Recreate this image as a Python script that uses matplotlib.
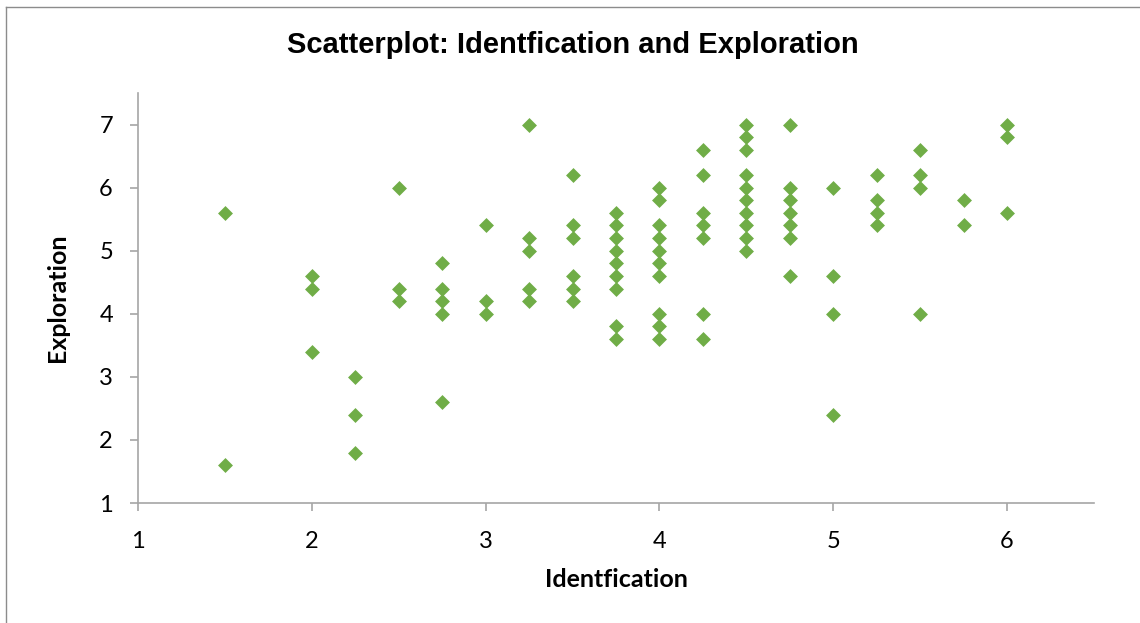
import numpy as np
import matplotlib.pyplot as plt

# Identfication (x) vs Exploration (y)
identification = [1.5, 1.5,
                  2, 2, 2,
                  2.25, 2.25, 2.25,
                  2.5, 2.5, 2.5,
                  2.75, 2.75, 2.75, 2.75, 2.75,
                  3, 3, 3,
                  3.25, 3.25, 3.25, 3.25, 3.25,
                  3.5, 3.5, 3.5, 3.5, 3.5, 3.5,
                  3.75, 3.75, 3.75, 3.75, 3.75, 3.75, 3.75, 3.75, 3.75,
                  4, 4, 4, 4, 4, 4, 4, 4, 4, 4,
                  4.25, 4.25, 4.25, 4.25, 4.25, 4.25, 4.25,
                  4.5, 4.5, 4.5, 4.5, 4.5, 4.5, 4.5, 4.5, 4.5, 4.5,
                  4.75, 4.75, 4.75, 4.75, 4.75, 4.75, 4.75,
                  5, 5, 5, 5,
                  5.25, 5.25, 5.25, 5.25,
                  5.5, 5.5, 5.5, 5.5,
                  5.75, 5.75,
                  6, 6, 6]
exploration = [5.6, 1.6,
               4.6, 4.4, 3.4,
               3.0, 2.4, 1.8,
               6.0, 4.4, 4.2,
               4.8, 4.4, 4.2, 4.0, 2.6,
               5.4, 4.2, 4.0,
               7.0, 5.2, 5.0, 4.4, 4.2,
               6.2, 5.4, 5.2, 4.6, 4.4, 4.2,
               5.6, 5.4, 5.2, 5.0, 4.8, 4.6, 4.4, 3.8, 3.6,
               6.0, 5.8, 5.4, 5.2, 5.0, 4.8, 4.6, 4.0, 3.8, 3.6,
               6.6, 6.2, 5.6, 5.4, 5.2, 4.0, 3.6,
               7.0, 6.8, 6.6, 6.2, 6.0, 5.8, 5.6, 5.4, 5.2, 5.0,
               7.0, 6.0, 5.8, 5.6, 5.4, 5.2, 4.6,
               6.0, 4.6, 4.0, 2.4,
               6.2, 5.8, 5.6, 5.4,
               6.6, 6.2, 6.0, 4.0,
               5.8, 5.4,
               7.0, 6.8, 5.6]

x_ticks = [1, 2, 3, 4, 5, 6]
y_ticks = [1, 2, 3, 4, 5, 6, 7]

green = '#70AD47'
axis_grey = '#A6A6A6'

fig = plt.figure(figsize=(11.4, 6.23), dpi=100)
ax = fig.add_axes([138/1140, 1 - 503/623, (1094 - 138)/1140, (503 - 93)/623])

ax.scatter(identification, exploration, marker='D', s=7.6**2, color=green,
           linewidths=0, zorder=3, clip_on=False)

ax.set_xlim(1, 6.5)
ax.set_ylim(1, 7.5)
ax.set_xticks(x_ticks)
ax.set_yticks(y_ticks)

for side in ['top', 'right']:
    ax.spines[side].set_visible(False)
for side in ['left', 'bottom']:
    ax.spines[side].set_color(axis_grey)
    ax.spines[side].set_linewidth(1.2)

ax.tick_params(axis='both', colors=axis_grey, length=6, width=1.2,
               labelcolor='black', labelsize=17)
ax.tick_params(axis='x', pad=14)
ax.tick_params(axis='y', pad=12)
for lbl in ax.get_xticklabels() + ax.get_yticklabels():
    lbl.set_family('Lato')

ax.set_xlabel('Identfication', family='Lato', fontweight='bold', fontsize=18, labelpad=12)
ax.set_ylabel('Exploration', family='Lato', fontweight='bold', fontsize=18, labelpad=22)

fig.text(573/1140, 1 - 45/623, 'Scatterplot: Identfication and Exploration',
         family='Liberation Sans', fontweight='bold', fontsize=21,
         ha='center', va='center')

# outer chart border (only left and top edges show in the crop)
fig.add_artist(plt.Line2D([5.5/1140, 5.5/1140], [0, 1 - 6.5/623], color='#8C8C8C', lw=1))
fig.add_artist(plt.Line2D([5.5/1140, 1], [1 - 6.5/623, 1 - 6.5/623], color='#8C8C8C', lw=1))

fig.savefig('out.png', dpi=100)
